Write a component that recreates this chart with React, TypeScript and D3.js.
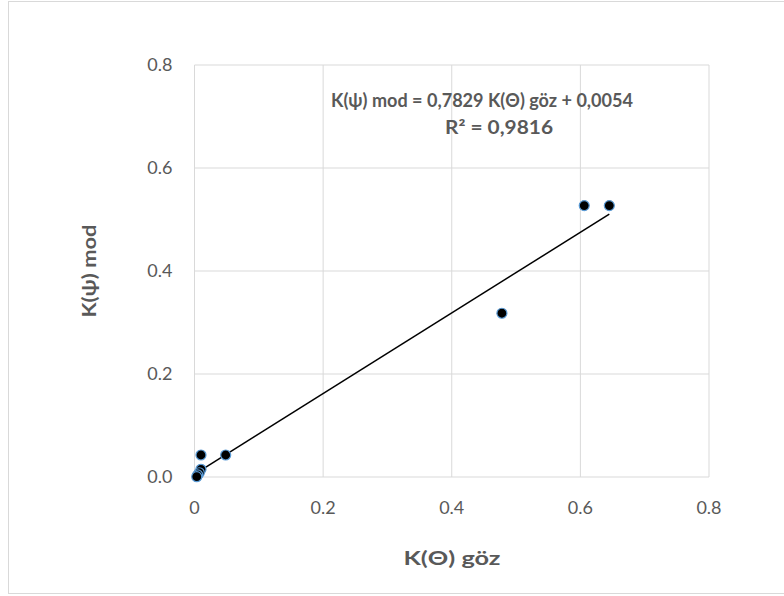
import React from "react";
import * as d3 from "d3";

// K(Θ) göz vs K(ψ) mod
const xValues = [0.606, 0.645, 0.478, 0.0485, 0.0101, 0.0101, 0.0075, 0.005, 0.0035];
const yValues = [0.527, 0.527, 0.318, 0.0427, 0.0427, 0.015, 0.0083, 0.004, 0.0006];
const xTicks = [0, 0.2, 0.4, 0.6, 0.8];
const yTicks = [0, 0.2, 0.4, 0.6, 0.8];
const xTickLabels = ["0", "0.2", "0.4", "0.6", "0.8"];
const yTickLabels = ["0.0", "0.2", "0.4", "0.6", "0.8"];
const slope = 0.7829;
const intercept = 0.0054;
const equation = "K(ψ) mod = 0,7829 K(Θ) göz + 0,0054";
const rSquared = "R² = 0,9816";

const W = 784;
const H = 596;
const MARGIN = { TOP: 65, BOTTOM: 119, LEFT: 194.5, RIGHT: 75 };
const FONT = "Lato, 'Open Sans', sans-serif";

const App = () => {
  const x = d3
    .scaleLinear()
    .domain([0, 0.8])
    .range([MARGIN.LEFT, W - MARGIN.RIGHT]);
  const y = d3
    .scaleLinear()
    .domain([0, 0.8])
    .range([H - MARGIN.BOTTOM, MARGIN.TOP]);

  const points = xValues.map((v, i) => ({ x: v, y: yValues[i] }));
  const x0 = d3.min(xValues) as number;
  const x1 = d3.max(xValues) as number;
  const line = d3.line<number>()
    .x((d) => x(d))
    .y((d) => y(slope * d + intercept));

  return (
    <svg
      width={W}
      height={H}
      style={{ position: "absolute", left: 0, top: 0 }}
      fontFamily={FONT}
    >
      <rect x={0} y={0} width={W} height={H} fill="#fff" />
      <rect x={8.5} y={1.5} width={W + 10} height={592} fill="#fff" stroke="#d9d9d9" />

      {xTicks.map((t) => (
        <line key={"gx" + t} x1={x(t)} x2={x(t)} y1={y(0)} y2={y(0.8)} stroke="#d9d9d9" />
      ))}
      {yTicks.map((t) => (
        <line key={"gy" + t} x1={x(0)} x2={x(0.8)} y1={y(t)} y2={y(t)} stroke="#d9d9d9" />
      ))}

      {xTicks.map((t, i) => (
        <text key={"tx" + t} x={x(t)} y={y(0) + 37} textAnchor="middle" fontSize={18} fill="#595959">
          {xTickLabels[i]}
        </text>
      ))}
      {yTicks.map((t, i) => (
        <text key={"ty" + t} x={x(0) - 22} y={y(t)} dy="0.36em" textAnchor="end" fontSize={18} fill="#595959">
          {yTickLabels[i]}
        </text>
      ))}

      <path d={line([x0, x1]) || ""} stroke="#000" strokeWidth={1.5} fill="none" />

      {points.map((p, i) => (
        <circle key={i} cx={x(p.x)} cy={y(p.y)} r={5} fill="#000" stroke="#5b9bd5" strokeWidth={1.2} />
      ))}

      <text x={482} y={107} textAnchor="middle" fontSize={18} fontWeight="bold" fill="#595959"
        textLength={302} lengthAdjust="spacingAndGlyphs">
        {equation}
      </text>
      <text x={499} y={134} textAnchor="middle" fontSize={18} fontWeight="bold" fill="#595959"
        textLength={108} lengthAdjust="spacingAndGlyphs">
        {rSquared}
      </text>

      <text x={452} y={565} textAnchor="middle" fontSize={18} fontWeight="bold" fill="#595959"
        textLength={97} lengthAdjust="spacingAndGlyphs">
        K(Θ) göz
      </text>
      <text
        transform={`translate(96, 271) rotate(-90)`}
        textAnchor="middle"
        fontSize={18}
        fontWeight="bold"
        fill="#595959"
        textLength={93}
        lengthAdjust="spacingAndGlyphs"
      >
        K(ψ) mod
      </text>
    </svg>
  );
};

export default App;
